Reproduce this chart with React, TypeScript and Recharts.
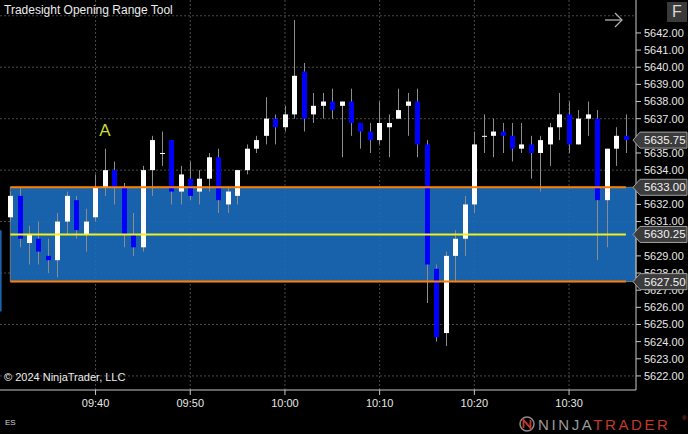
import React from "react";
import {
  ComposedChart,
  Bar,
  XAxis,
  YAxis,
  CartesianGrid,
  ReferenceLine,
  ReferenceArea,
  ReferenceDot,
} from "recharts";

// 1-minute ES bars, 09:31 .. 10:36
const opens = [
  5631.25, 5632.5, 5629.75, 5630, 5629, 5628.75, 5631, 5632.25, 5630.25, 5631.25,
  5633, 5634, 5633, 5630.25, 5629.5, 5634, 5635, 5635.75, 5632.75, 5633.5,
  5632.75, 5633.5, 5634.75, 5632, 5632.5, 5634, 5635.25, 5636, 5637, 5636.5,
  5637.25, 5639.75, 5637.25, 5637.75, 5638, 5637.75, 5638, 5636.75, 5636.25, 5635.75,
  5636.5, 5637, 5637.75, 5638, 5635.5, 5628.25, 5624.5, 5629, 5630, 5632,
  5636, 5636, 5636.25, 5636, 5635.25, 5635.5, 5635, 5635.5, 5636.5, 5637.25,
  5635.5, 5637, 5637, 5632.25, 5635.25, 5636,
];
const highs = [
  5632.75, 5633, 5630.75, 5631, 5630, 5631.5, 5632.75, 5632.5, 5631.75, 5633.75,
  5635.25, 5634.5, 5633.25, 5631.5, 5634.25, 5636, 5636.25, 5635.75, 5634.25, 5634.5,
  5634, 5635, 5635.25, 5633, 5634, 5635.5, 5636, 5638.25, 5637.25, 5637.75,
  5642.75, 5640.25, 5638.5, 5638.5, 5638.75, 5638, 5638.75, 5636.75, 5636.75, 5638,
  5637.25, 5638.75, 5638.5, 5638.75, 5635.75, 5628.5, 5629.25, 5630.5, 5632.5, 5636.25,
  5637.25, 5637, 5636.75, 5636.75, 5636.75, 5636, 5636, 5636.75, 5638.5, 5638,
  5637.5, 5638, 5637.5, 5635.25, 5636.5, 5637.25,
];
const lows = [
  5631, 5629.5, 5628.5, 5628.5, 5628, 5627.75, 5630.25, 5630, 5629.25, 5631,
  5632.5, 5632, 5629.5, 5629, 5629.25, 5632.5, 5634.25, 5632, 5632, 5632.25,
  5632, 5632.75, 5631.5, 5631.5, 5632, 5633.75, 5635, 5635.5, 5635.5, 5636.25,
  5637, 5636.25, 5636.75, 5637, 5637, 5634.75, 5636, 5635.25, 5635, 5635.5,
  5634.75, 5637, 5636, 5634.75, 5626.25, 5624, 5623.75, 5627.5, 5629, 5631.5,
  5635, 5634.75, 5635, 5634.5, 5635, 5633.5, 5632.75, 5634.25, 5635.75, 5635,
  5635.5, 5636, 5628.75, 5629.5, 5634.25, 5635,
];
const closes = [
  5632.5, 5630, 5630.25, 5629.25, 5628.75, 5631, 5632.5, 5630.5, 5631, 5633,
  5634, 5633, 5630.25, 5629.5, 5634, 5635.75, 5635, 5632.75, 5633.75, 5632.5,
  5633.5, 5634.75, 5632.25, 5632.75, 5634, 5635.25, 5635.75, 5637, 5636.5, 5637.25,
  5639.5, 5637, 5637.75, 5638, 5637.5, 5638, 5636.75, 5636.25, 5635.75, 5636.75,
  5636.75, 5637.5, 5638, 5635.5, 5628.5, 5624.25, 5629, 5630, 5632, 5635.5,
  5636, 5636.25, 5636, 5635.25, 5635.5, 5635, 5635.75, 5636.5, 5637.25, 5635.5,
  5637, 5637.25, 5632.25, 5635.25, 5636, 5635.75,
];

const timeTicks = [9, 19, 29, 39, 49, 59];
const timeLabels = ["09:40", "09:50", "10:00", "10:10", "10:20", "10:30"];
const priceTicks = [
  5622, 5623, 5624, 5625, 5626, 5627, 5628, 5629, 5630, 5631, 5632,
  5633, 5634, 5635, 5636, 5637, 5638, 5639, 5640, 5641, 5642,
];
const gridPrices = [5643, 5640, 5637, 5634, 5631, 5628, 5625, 5622];

const rangeHigh = 5633;
const rangeLow = 5627.5;
const rangeMid = 5630.25;
const lastPrice = 5635.75;
const prevBox = [5625.75, 5630.5];
const markerA = { bar: 10, price: 5636.35 };

const xDomain = [-1.09, 66.07];
const yDomain = [5621.18, 5643.92];

const data = opens.map((o, i) => ({
  i,
  o,
  h: highs[i],
  l: lows[i],
  c: closes[i],
  range: [lows[i], highs[i]],
}));

const FONT = "'Liberation Sans', Arial, sans-serif";

function Candle(props: any) {
  const { x, y, width, height, payload } = props;
  if (!payload || height == null) return null;
  const { o, h, l, c } = payload;
  const cx = Math.round(x + width / 2) + 0.5;
  const pp = height / (h - l);
  const yo = y + (h - o) * pp;
  const yc = y + (h - c) * pp;
  const up = c >= o;
  const top = Math.min(yo, yc);
  const bh = Math.max(Math.abs(yc - yo), 1);
  return (
    <g>
      <line x1={cx} x2={cx} y1={y} y2={y + height} stroke="#8c8c8c" strokeWidth={1} />
      <rect x={cx - 2.5} y={top} width={5} height={bh} fill={up ? "#ffffff" : "#0000ff"} />
    </g>
  );
}

const badge = (vb: any, text: string) => {
  if (!vb) return null;
  const x0 = vb.x + vb.width - 3;
  const y0 = vb.y;
  return (
    <g>
      <polygon
        points={`${x0},${y0} ${x0 + 7},${y0 - 8} ${x0 + 54},${y0 - 8} ${x0 + 54},${y0 + 8} ${x0 + 7},${y0 + 8}`}
        fill="#3c3c3c"
        stroke="#a0a0a0"
        strokeWidth={1}
      />
      <text x={x0 + 11} y={y0 + 4} fill="#f2f2f2" fontSize={11.5} fontFamily={FONT}>
        {text}
      </text>
    </g>
  );
};

export default function App() {
  return (
    <div
      style={{
        position: "absolute",
        left: 0,
        top: 0,
        width: 688,
        height: 434,
        background: "#000",
        overflow: "hidden",
        fontFamily: FONT,
      }}
    >
      <ComposedChart
        width={688}
        height={434}
        data={data}
        margin={{ top: 0, right: 0, bottom: 0, left: 0 }}
      >
        <CartesianGrid
          stroke="#4a4a4a"
          strokeDasharray="2 2"
          horizontalValues={gridPrices}
          verticalValues={timeTicks}
        />
        <XAxis
          dataKey="i"
          type="number"
          domain={xDomain}
          allowDataOverflow
          ticks={timeTicks}
          tickFormatter={(v: number) => timeLabels[timeTicks.indexOf(v)] || ""}
          height={44}
          stroke="#c8c8c8"
          tickSize={5}
          tickMargin={4}
          tick={{ fill: "#e6e6e6", fontSize: 11, fontFamily: FONT }}
        />
        <YAxis
          orientation="right"
          type="number"
          domain={yDomain}
          allowDataOverflow
          ticks={priceTicks}
          interval={0}
          tickFormatter={(v: number) => v.toFixed(2)}
          width={52}
          stroke="#c8c8c8"
          tickSize={5}
          tickMargin={3}
          tick={{ fill: "#e6e6e6", fontSize: 11, fontFamily: FONT }}
        />

        <ReferenceArea
          x1={xDomain[0]}
          x2={-0.92}
          y1={prevBox[0]}
          y2={prevBox[1]}
          fill="#1b6dbe"
          fillOpacity={0.92}
          stroke="none"
        />
        <ReferenceArea
          x1={0}
          x2={xDomain[1]}
          y1={rangeLow}
          y2={rangeHigh}
          fill="#1b6dbe"
          fillOpacity={0.9}
          stroke="#7a7a7a"
          strokeWidth={1}
        />

        <Bar
          dataKey="range"
          barSize={5}
          isAnimationActive={false}
          shape={(p: any) => <Candle {...p} />}
        />

        <ReferenceLine
          segment={[{ x: 0, y: rangeHigh }, { x: 65, y: rangeHigh }]}
          stroke="#ff8000"
          strokeWidth={2}
        />
        <ReferenceLine
          segment={[{ x: 0, y: rangeLow }, { x: 65, y: rangeLow }]}
          stroke="#ff8000"
          strokeWidth={2}
        />
        <ReferenceLine
          segment={[{ x: 0, y: rangeMid }, { x: 65, y: rangeMid }]}
          stroke="#f0f020"
          strokeWidth={2}
        />

        <ReferenceDot
          x={markerA.bar}
          y={markerA.price}
          r={1}
          fill="none"
          stroke="none"
          label={{ value: "A", position: "center", fill: "#c8dc30", fontSize: 17, fontFamily: FONT }}
        />
      </ComposedChart>

      {/* price badges drawn on a second chart so they sit over the axis labels */}
      <div style={{ position: "absolute", left: 0, top: 0, pointerEvents: "none" }}>
        <ComposedChart
          width={688}
          height={434}
          data={data}
          margin={{ top: 0, right: 52, bottom: 44, left: 0 }}
        >
          <XAxis dataKey="i" type="number" domain={xDomain} allowDataOverflow hide />
          <YAxis type="number" domain={yDomain} allowDataOverflow hide />
          {[lastPrice, rangeHigh, rangeMid, rangeLow].map((p) => (
            <ReferenceLine
              key={"b" + p}
              y={p}
              stroke="none"
              strokeOpacity={0}
              ifOverflow="visible"
              label={{ content: (lp: any) => badge(lp.viewBox, p.toFixed(2)) }}
            />
          ))}
        </ComposedChart>
      </div>

      <div style={{ position: "absolute", left: 4, top: 3, color: "#ececec", fontSize: 12 }}>
        Tradesight Opening Range Tool
      </div>
      <div style={{ position: "absolute", left: 4, top: 371, color: "#ececec", fontSize: 11 }}>
        © 2024 NinjaTrader, LLC
      </div>
      <div style={{ position: "absolute", left: 5, top: 418, color: "#d0d0d0", fontSize: 8 }}>ES</div>
      <div
        style={{
          position: "absolute",
          left: 667,
          top: 2,
          width: 20,
          height: 20,
          background: "#3a3a3a",
          color: "#d8d8d8",
          fontSize: 16,
          lineHeight: "20px",
          textAlign: "center",
        }}
      >
        F
      </div>
      <svg style={{ position: "absolute", left: 0, top: 0, pointerEvents: "none" }} width={688} height={434}>
        <g stroke="#b0b0b0" strokeWidth={1.3} fill="none">
          <line x1={605} y1={20} x2={622} y2={20} />
          <polyline points="615,13 622,20 615,27" />
        </g>
        <circle cx={527} cy={424} r={7} fill="none" stroke="#8a8a8a" strokeWidth={1.5} />
        <path d="M523.5 428 L523.5 420 L530.5 428 L530.5 420" fill="none" stroke="#c0392b" strokeWidth={1.8} />
        <text x={538} y={430} fontSize={15} fontFamily={FONT} letterSpacing={2.6}>
          <tspan fill="#9a9a9a">NINJA</tspan>
          <tspan fill="#c0392b">TRADER</tspan>
        </text>
        <text x={682} y={420} fontSize={6} fill="#c0392b" fontFamily={FONT}>®</text>
      </svg>
    </div>
  );
}
